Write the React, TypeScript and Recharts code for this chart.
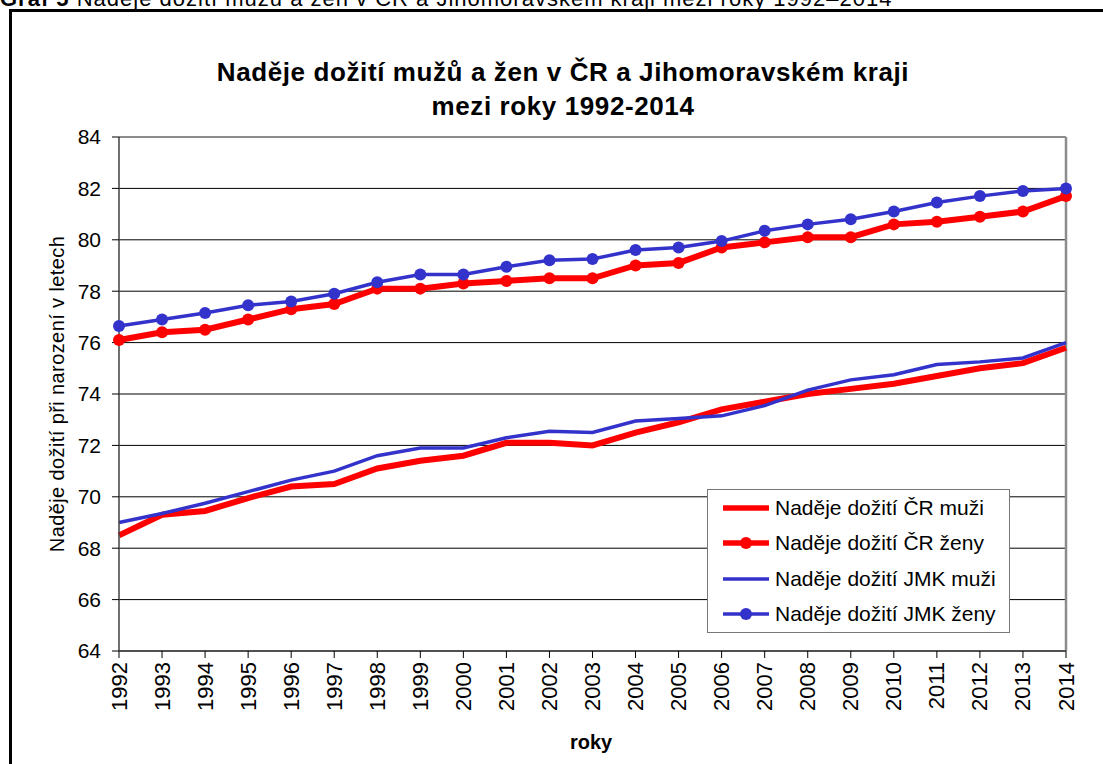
import {
  LineChart,
  Line,
  XAxis,
  YAxis,
  CartesianGrid,
  Legend,
  ReferenceLine,
} from "recharts";

const years = [
  "1992", "1993", "1994", "1995", "1996", "1997", "1998", "1999", "2000", "2001", "2002", "2003",
  "2004", "2005", "2006", "2007", "2008", "2009", "2010", "2011", "2012", "2013", "2014",
];

const crMuzi = [
  68.5, 69.3, 69.45, 69.95, 70.4, 70.5, 71.1, 71.4, 71.6, 72.1, 72.1, 72.0,
  72.5, 72.9, 73.4, 73.7, 74.0, 74.2, 74.4, 74.7, 75.0, 75.2, 75.8,
];
const crZeny = [
  76.1, 76.4, 76.5, 76.9, 77.3, 77.5, 78.1, 78.1, 78.3, 78.4, 78.5, 78.5,
  79.0, 79.1, 79.7, 79.9, 80.1, 80.1, 80.6, 80.7, 80.9, 81.1, 81.7,
];
const jmkMuzi = [
  69.0, 69.35, 69.75, 70.2, 70.65, 71.0, 71.6, 71.9, 71.9, 72.3, 72.55, 72.5,
  72.95, 73.05, 73.15, 73.55, 74.15, 74.55, 74.75, 75.15, 75.25, 75.4, 76.0,
];
const jmkZeny = [
  76.65, 76.9, 77.15, 77.45, 77.6, 77.9, 78.35, 78.65, 78.65, 78.95, 79.2, 79.25,
  79.6, 79.7, 79.95, 80.35, 80.6, 80.8, 81.1, 81.45, 81.7, 81.9, 82.0,
];

const yTicks = [64, 66, 68, 70, 72, 74, 76, 78, 80, 82, 84];

// poradi v legende stejne jako poradi serii
const seriesOrder = ["crMuzi", "crZeny", "jmkMuzi", "jmkZeny"];

const data = years.map((rok, i) => ({
  rok,
  crMuzi: crMuzi[i],
  crZeny: crZeny[i],
  jmkMuzi: jmkMuzi[i],
  jmkZeny: jmkZeny[i],
}));

const RED = "#FF0000";
const BLUE = "#3333CC";
const FONT = '"Liberation Sans", Arial, sans-serif';

const XTick = (props: any) => {
  const { x, y, payload } = props;
  return (
    <text
      x={x}
      y={y}
      transform={`rotate(-90, ${x}, ${y})`}
      textAnchor="end"
      dominantBaseline="central"
      fontSize={22}
      fill="#000"
    >
      {payload.value}
    </text>
  );
};

const LegendBox = (props: any) => {
  const items = [...(props.payload || [])].sort(
    (a: any, b: any) => seriesOrder.indexOf(a.dataKey) - seriesOrder.indexOf(b.dataKey)
  );
  return (
    <div
      style={{
        width: 301,
        height: 142,
        border: "1px solid #777",
        background: "#fff",
        fontFamily: FONT,
        fontSize: 21,
        color: "#000",
      }}
    >
      {items.map((it: any) => {
        const dotted = String(it.dataKey).endsWith("Zeny");
        const w = it.color === RED ? 5.5 : 3.5;
        return (
          <div
            key={it.value}
            style={{ height: 35.5, display: "flex", alignItems: "center", paddingLeft: 15 }}
          >
            <svg width={46} height={14} style={{ marginRight: 6 }}>
              <line x1={0} y1={7} x2={46} y2={7} stroke={it.color} strokeWidth={w} />
              {dotted && <circle cx={23} cy={7} r={6} fill={it.color} />}
            </svg>
            <span>{it.value}</span>
          </div>
        );
      })}
    </div>
  );
};

export default function App() {
  return (
    <div
      style={{
        position: "absolute",
        left: 0,
        top: 0,
        width: 1103,
        height: 764,
        overflow: "hidden",
        background: "#fff",
        fontFamily: FONT,
      }}
    >
      <div
        style={{
          position: "absolute",
          left: 0,
          top: -12,
          fontSize: 22,
          lineHeight: "22px",
          letterSpacing: 1,
          whiteSpace: "nowrap",
          color: "#000",
        }}
      >
        <b>Graf 5</b> Naděje dožití mužů a žen v ČR a Jihomoravském kraji mezi roky 1992–2014
      </div>
      <div
        style={{
          position: "absolute",
          left: 9,
          top: 9,
          width: 1120,
          height: 780,
          border: "3px solid #000",
        }}
      />
      <div
        style={{
          position: "absolute",
          left: 0,
          top: 55,
          width: 1126,
          textAlign: "center",
          fontSize: 26,
          letterSpacing: 0.6,
          lineHeight: "34px",
          fontWeight: "bold",
          color: "#000",
        }}
      >
        Naděje dožití mužů a žen v ČR a Jihomoravském kraji
        <br />
        mezi roky 1992-2014
      </div>
      <div
        style={{
          position: "absolute",
          left: 57 - 200,
          top: 394 - 11,
          width: 400,
          height: 22,
          lineHeight: "22px",
          textAlign: "center",
          fontSize: 20,
          letterSpacing: 0.4,
          transform: "rotate(-90deg)",
          color: "#000",
        }}
      >
        Naděje dožití při narození v letech
      </div>
      <div
        style={{
          position: "absolute",
          left: 591 - 50,
          top: 731,
          width: 100,
          height: 22,
          lineHeight: "22px",
          textAlign: "center",
          fontSize: 20,
          fontWeight: "bold",
          color: "#000",
        }}
      >
        roky
      </div>
      <div style={{ position: "absolute", left: 0, top: 0 }}>
        <LineChart
          width={1103}
          height={764}
          data={data}
          margin={{ top: 137, right: 37, bottom: 33, left: 19 }}
        >
          <CartesianGrid vertical={false} stroke="#000" strokeWidth={1} />
          <XAxis
            dataKey="rok"
            interval={0}
            height={80}
            tick={<XTick />}
            tickSize={7}
            tickMargin={4}
            tickLine={{ stroke: "#000" }}
            axisLine={{ stroke: "#404040", strokeWidth: 1.5 }}
          />
          <YAxis
            domain={[64, 84]}
            ticks={yTicks}
            width={100}
            tickSize={7}
            tickMargin={11}
            tick={{ fill: "#000", fontSize: 21 }}
            tickLine={{ stroke: "#000" }}
            axisLine={{ stroke: "#404040", strokeWidth: 1.5 }}
          />
          <ReferenceLine y={84} stroke="#8c8c8c" strokeWidth={2} />
          <ReferenceLine x="2014" stroke="#8c8c8c" strokeWidth={2.5} />
          <Legend
            layout="vertical"
            align="center"
            verticalAlign="middle"
            wrapperStyle={{ left: 707, top: 489, width: 303, height: 144 }}
            content={<LegendBox />}
          />
          <Line
            dataKey="crMuzi"
            name="Naděje dožití ČR muži"
            stroke={RED}
            strokeWidth={6}
            dot={false}
            activeDot={false}
            isAnimationActive={false}
          />
          <Line
            dataKey="crZeny"
            name="Naděje dožití ČR ženy"
            stroke={RED}
            strokeWidth={6}
            dot={{ r: 6, fill: RED, stroke: "none" }}
            activeDot={false}
            isAnimationActive={false}
          />
          <Line
            dataKey="jmkMuzi"
            name="Naděje dožití JMK muži"
            stroke={BLUE}
            strokeWidth={3.5}
            dot={false}
            activeDot={false}
            isAnimationActive={false}
          />
          <Line
            dataKey="jmkZeny"
            name="Naděje dožití JMK ženy"
            stroke={BLUE}
            strokeWidth={3.5}
            dot={{ r: 6, fill: BLUE, stroke: "none" }}
            activeDot={false}
            isAnimationActive={false}
          />
        </LineChart>
      </div>
    </div>
  );
}
